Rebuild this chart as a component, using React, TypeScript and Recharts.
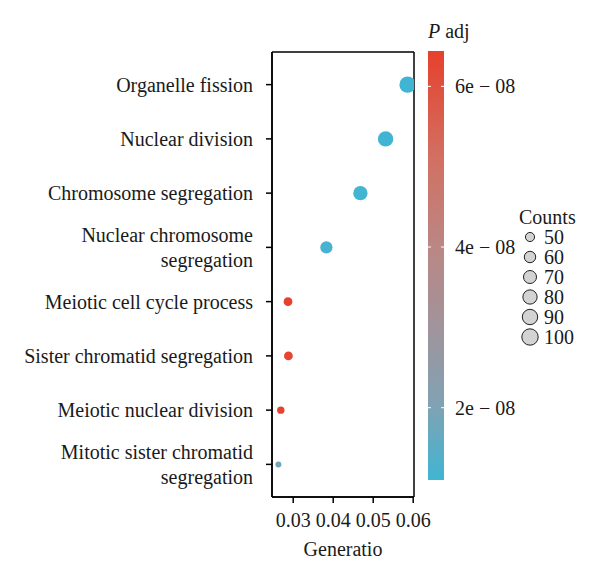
import React from 'react'
import { CartesianGrid, Scatter, ScatterChart, XAxis, YAxis } from 'recharts'

// GO terms, top to bottom
const terms = [
  'Organelle fission',
  'Nuclear division',
  'Chromosome segregation',
  'Nuclear chromosome segregation',
  'Meiotic cell cycle process',
  'Sister chromatid segregation',
  'Meiotic nuclear division',
  'Mitotic sister chromatid segregation'
]
const geneRatio = [0.0586, 0.0531, 0.0468, 0.0383, 0.0287, 0.0288, 0.0269, 0.0263]
const counts = [100, 90, 80, 65, 49, 49, 46, 45]
const padj = [1.1e-8, 1.1e-8, 1.15e-8, 1.2e-8, 6.44e-8, 6.3e-8, 6.4e-8, 1.9e-8]

const xTicks = [0.03, 0.04, 0.05, 0.06]
const colorTicks = [2e-8, 4e-8, 6e-8]
const countBreaks = [50, 60, 70, 80, 90, 100]

const data = terms.map((term, i) => ({ term, ratio: geneRatio[i], count: counts[i], padj: padj[i] }))

const font = "'Liberation Serif', 'Times New Roman', serif"
const ink = '#1a1a1a'
const axisStyle = { stroke: '#000', strokeWidth: 1.5 }

// colour scale (low -> high p adj)
const stops: [number, string][] = [
  [0, '#40B5D3'],
  [0.17, '#7FA2B4'],
  [0.35, '#A0949C'],
  [0.54, '#BA8784'],
  [0.75, '#D27062'],
  [1, '#E6412D']
]
const pMin = Math.min(...padj)
const pMax = Math.max(...padj)

const hexToRgb = (h: string) => [1, 3, 5].map(i => parseInt(h.slice(i, i + 2), 16))
const colorFor = (v: number) => {
  const t = Math.max(0, Math.min(1, (v - pMin) / (pMax - pMin)))
  for (let i = 1; i < stops.length; i++) {
    if (t <= stops[i][0]) {
      const [t0, c0] = stops[i - 1]
      const [t1, c1] = stops[i]
      const k = (t - t0) / (t1 - t0)
      const a = hexToRgb(c0)
      const b = hexToRgb(c1)
      return `rgb(${a.map((x, j) => Math.round(x + (b[j] - x) * k)).join(',')})`
    }
  }
  return stops[stops.length - 1][1]
}

// size scale, radius grows with sqrt of the rescaled count
const cMin = Math.min(...counts)
const cMax = Math.max(...counts)
const radius = (c: number) => 3 + 5.2 * Math.sqrt(Math.max(0, (c - cMin) / (cMax - cMin)))

const wrapLabel = (s: string) => {
  if (s.length <= 28) return [s]
  const k = s.lastIndexOf(' ')
  return [s.slice(0, k), s.slice(k + 1)]
}

const TermTick = (props: any) => {
  const { x, y, payload } = props
  const lines = wrapLabel(String(payload.value))
  const lh = 25
  const y0 = y - ((lines.length - 1) * lh) / 2 + 7
  return (
    <text x={x} y={y0} textAnchor='end' fontSize={20} fontFamily={font} fill={ink}>
      {lines.map((l, i) => (
        <tspan key={i} x={x} y={y0 + i * lh}>{l}</tspan>
      ))}
    </text>
  )
}

const Dot = (props: any) => {
  const { cx, cy, payload } = props
  return <circle cx={cx} cy={cy} r={radius(payload.count)} fill={colorFor(payload.padj)} />
}

// panel border: lines on the edges of the plotting area
const edgesY = ({ offset }: any) => [offset.top, offset.top + offset.height]
const edgesX = ({ offset }: any) => [offset.left, offset.left + offset.width]

// colour bar geometry
const bar = { x: 428, w: 16, top: 51, bottom: 480 }
const barY = (v: number) => bar.bottom - ((v - pMin) / (pMax - pMin)) * (bar.bottom - bar.top)
const fmtP = (v: number) => `${Math.round(v * 1e8)}e \u2212 08`

const Legends = () => (
  <svg width={600} height={576} style={{ position: 'absolute', left: 0, top: 0, pointerEvents: 'none' }}>
    <defs>
      <linearGradient id='padjGrad' x1='0' y1='1' x2='0' y2='0'>
        {stops.map(([t, c]) => <stop key={t} offset={t} stopColor={c} />)}
      </linearGradient>
    </defs>
    <text x={bar.x} y={38} fontSize={20} fontFamily={font} fill={ink}>
      <tspan fontStyle='italic'>P</tspan> adj
    </text>
    <rect x={bar.x} y={bar.top} width={bar.w} height={bar.bottom - bar.top} fill='url(#padjGrad)' />
    {colorTicks.map(v => (
      <g key={v}>
        <line x1={bar.x} x2={bar.x + 3} y1={barY(v)} y2={barY(v)} stroke='#fff' strokeWidth={1} />
        <line x1={bar.x + bar.w - 3} x2={bar.x + bar.w} y1={barY(v)} y2={barY(v)} stroke='#fff' strokeWidth={1} />
        <text x={455} y={barY(v) + 7} fontSize={20} fontFamily={font} fill={ink}>{fmtP(v)}</text>
      </g>
    ))}

    <text x={519} y={224} fontSize={20} fontFamily={font} fill={ink}>Counts</text>
    {countBreaks.map((c, i) => {
      const cy = 237 + i * 20
      return (
        <g key={c}>
          <circle cx={530} cy={cy} r={radius(c)} fill='#d3d3d3' stroke='#222' strokeWidth={1} />
          <text x={544} y={cy + 7} fontSize={20} fontFamily={font} fill={ink}>{c}</text>
        </g>
      )
    })}
  </svg>
)

const App: React.FC = () => {
  return (
    <div style={{ position: 'relative', width: 600, height: 576, background: '#fff' }}>
      <style>{'body{margin:0}'}</style>
      <ScatterChart width={600} height={576} margin={{ top: 52, right: 186, bottom: 0, left: 0 }}>
        <CartesianGrid
          stroke='#000'
          strokeWidth={1.5}
          horizontalCoordinatesGenerator={edgesY}
          verticalCoordinatesGenerator={edgesX}
        />
        <XAxis
          type='number'
          dataKey='ratio'
          domain={[0.0247, 0.0602]}
          allowDataOverflow
          ticks={xTicks}
          interval={0}
          tickFormatter={(v: number) => v.toFixed(2)}
          height={79}
          tickSize={6}
          tickMargin={10}
          axisLine={axisStyle}
          tickLine={axisStyle}
          tick={{ fontSize: 20, fontFamily: font, fill: ink }}
          label={{ value: 'Generatio', position: 'insideBottom', offset: 20, fontSize: 20, fontFamily: font, fill: ink }}
        />
        <YAxis
          type='category'
          dataKey='term'
          reversed
          width={272}
          padding={{ top: 5.5, bottom: 5.5 }}
          tickSize={6}
          tickMargin={13}
          interval={0}
          axisLine={axisStyle}
          tickLine={axisStyle}
          tick={<TermTick />}
        />
        <Scatter data={data} shape={<Dot />} isAnimationActive={false} />
      </ScatterChart>
      <Legends />
    </div>
  )
}

export default App
